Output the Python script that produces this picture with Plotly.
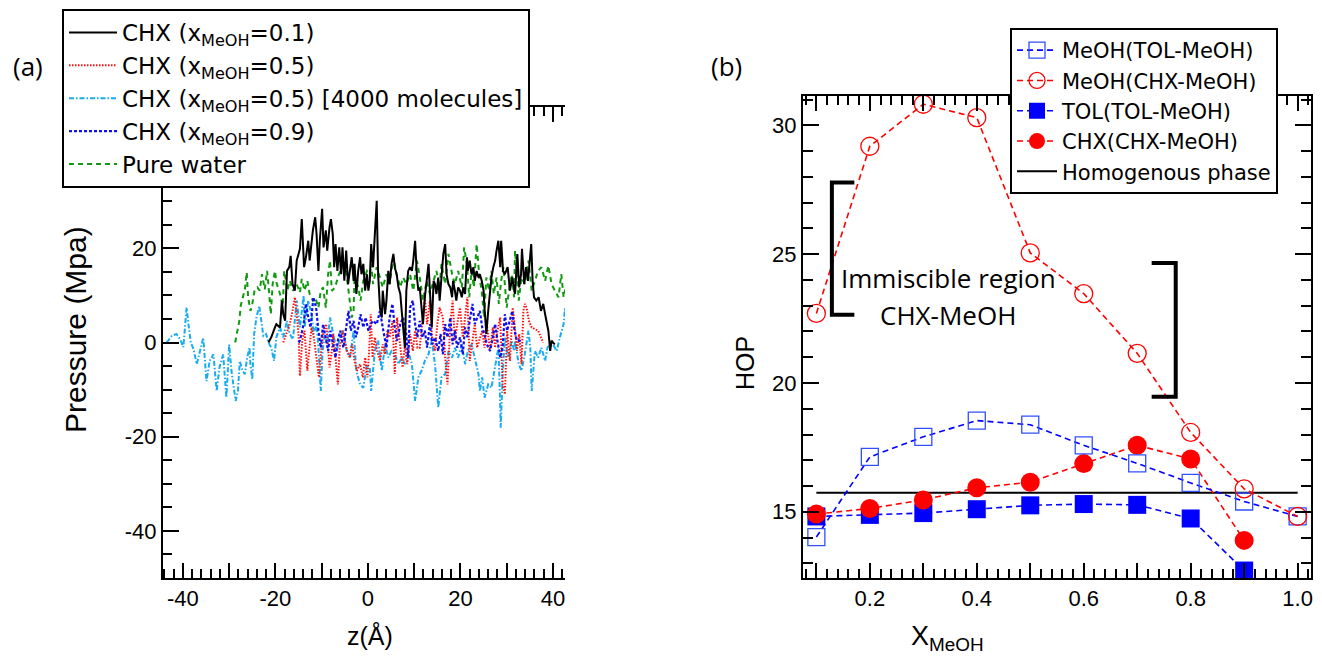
import plotly.graph_objects as go

# ---------------- panel (a): pressure profiles ----------------
# CHX (x_MeOH=0.1)
z_chx01 = [-21.5, -20.9, -20.1, -19.8, -19.0, -18.6, -18.3, -17.9, -17.5, -17.0, -16.7, -16.3, -15.8, -15.4,
           -15.0, -14.7, -14.3, -13.8, -13.4, -12.9, -12.6, -11.9, -11.4, -11.1, -10.7, -10.4, -9.9, -9.6,
           -9.1, -8.8, -8.3, -8.0, -7.6, -7.3, -7.0, -6.6, -6.2, -5.8, -5.5, -5.1, -4.7, -4.3,
           -4.0, -3.5, -3.1, -2.9, -2.5, -2.1, -1.7, -1.4, -1.0, -0.6, -0.2, 0.1, 0.4, 0.7, 1.1, 1.5,
           1.9, 2.2, 2.6, 3.0, 3.2, 3.7, 4.0, 4.4, 4.7, 5.1, 5.5, 5.8, 6.2, 6.6, 7.0, 7.3,
           7.6, 8.0, 8.3, 8.7, 9.1, 9.5, 9.8, 10.2, 10.6, 10.9, 11.2, 11.6, 11.9, 12.3, 12.7, 13.1, 13.4, 13.8,
           14.2, 14.5, 14.8, 15.2, 15.5, 15.9, 16.3, 16.7, 17.0, 17.4, 17.8, 18.2, 18.4, 18.8, 19.1, 19.5, 19.9, 20.3, 20.6,
           21.0, 21.4, 21.6, 22.0, 22.4, 22.8, 23.1, 23.5, 23.9, 24.2, 24.6, 25.0, 25.2, 25.6, 26.0, 26.4, 26.7,
           27.1, 27.5, 27.8, 28.2, 28.6, 28.8, 29.2, 29.6, 30.2, 30.7, 31.2, 31.8, 32.3, 32.7, 33.1, 33.3,
           33.8, 34.2, 34.6, 34.9, 35.3, 35.6, 35.9, 36.4, 36.9, 37.4, 37.9, 38.3, 38.7, 39.0, 39.4, 39.7,
           40.0, 40.4]
p_chx01 = [0, 1.1, 3.2, 3.9, 3.2, 8.9, 6.0, 4.6, 15.2, 16.0, 18.4, 12.4, 11.0, 17.4,
           18.8, 19.9, 26.2, 16.0, 18.1, 21.6, 17.4, 23.8, 26.6, 23.0, 15.2, 21.6, 28.4, 20.2,
           23.8, 19.5, 24.5, 26.2, 23.0, 16.0, 20.9, 15.2, 20.2, 14.5, 20.2, 13.1, 19.5, 12.4,
           14.5, 18.1, 13.1, 16.7, 10.3, 15.2, 18.1, 14.5, 16.7, 11.0, 14.5, 11.0, 13.1, 20.9, 16.0, 23.0,
           30.1, 14.5, 7.4, 5.3, 11.0, 6.0, 8.9, 15.2, 12.4, 16.7, 18.8, 16.0, 14.5, 11.7, 10.3, 6.7,
           3.9, -1.1, 11.0, 15.2, 16.0, 15.2, 17.4, 21.6, 13.8, 11.0, 11.7, 6.7, 3.9, 9.6, 13.1, 16.7, 11.0, 3.2,
           13.1, 12.4, 10.3, 13.8, 8.9, 13.1, 18.8, 20.9, 14.5, 12.4, 11.7, 9.6, 13.1, 11.0, 8.9, 11.7, 11.0, 9.6, 11.7,
           10.3, 18.1, 15.2, 17.4, 14.5, 16.0, 13.1, 15.2, 13.8, 14.5, 13.1, 11.0, 7.4, 1.8, 6.7, 11.7, 13.8,
           16.0, 17.4, 19.5, 21.6, 16.0, 21.6, 15.2, 14.5, 16.0, 11.0, 13.8, 10.3, 18.8, 11.7, 14.5, 19.9,
           12.4, 16.0, 13.1, 16.7, 20.9, 13.1, 9.6, 8.9, 9.6, 6.7, 8.2, 6.0, 3.9, 2.5, -1.8, 0.4,
           0, -0.4]

# CHX (x_MeOH=0.5)
z_chx05 = [-18.3, -17.5, -16.9, -16.3, -15.8, -15.4, -15.0, -14.7, -14.2, -13.7, -13.1, -12.7, -12.2, -11.7,
           -11.1, -10.6, -10.1, -9.6, -9.0, -8.3, -7.8, -7.5, -7.0, -6.5, -6.1, -5.5, -5.0, -4.5,
           -3.9, -3.4, -2.9, -2.4, -1.7, -1.1, -0.6, -0.1, 0.3, 0.6, 1.0, 1.5, 2.0, 2.6, 3.2, 3.7,
           4.2, 4.7, 5.3, 5.8, 6.3, 7.0, 7.5, 8.0, 8.5, 9.1, 9.7, 10.2, 10.7, 11.2, 11.8, 12.3, 12.8, 13.4,
           13.9, 14.5, 15.0, 15.5, 16.2, 16.7, 17.2, 17.8, 18.3, 18.8, 19.3, 19.9, 20.5, 21.0, 21.5, 22.0, 22.6, 23.1, 23.6,
           24.2, 24.7, 25.2, 25.7, 26.4, 27.0, 27.5, 28.0, 28.6, 29.1, 29.6, 30.1, 30.7, 31.3, 31.7, 32.2,
           32.7, 33.2, 33.6, 33.9, 34.3, 34.8, 35.4, 36.1, 36.8, 37.4, 37.9]
p_chx05 = [0, 2.5, 3.9, 6.7, 9.6, 6.0, 1.8, -7.1, 0.4, 2.5, -6.0, -1.8, 3.2, 1.1,
           -3.9, -7.4, -1.8, 2.5, 3.9, -5.3, -1.8, 1.8, -3.2, -8.9, -1.1, 2.5, 0.4, -1.8,
           -3.2, -0.4, -3.9, -6.0, -4.6, -7.4, -3.2, -7.4, -1.1, 6.0, -3.2, 1.1, -1.8, -3.9, -0.4, -2.5,
           2.5, 1.1, 4.6, -6.7, 5.3, -1.8, -5.3, -0.4, -4.6, 1.8, -1.8, 2.5, -1.1, -1.1, 4.6, 9.6, 3.9, 8.9,
           0.4, -1.8, 3.9, 7.4, 5.3, -3.2, -8.9, 3.9, 8.9, 0.4, 3.9, 7.4, 1.1, 5.3, 9.6, -3.9, 0.4, 3.9, -1.1,
           1.1, 2.5, -1.1, 3.9, -1.8, 3.2, -1.1, 2.5, 5.3, -8.9, -11.0, 2.5, -3.9, 7.4, 3.9, -1.8,
           1.8, -4.6, 6.7, 8.2, 7.4, 4.6, 3.2, 2.8, 2.5, 1.1, 0]

# CHX (x_MeOH=0.5), 4000 molecules
z_chx05_big = [-43.5, -42.4, -41.4, -40.6, -39.9, -39.2, -38.8, -38.3, -37.7, -37.0, -36.3, -35.6, -34.9,
               -34.2, -33.4, -32.7, -32.1, -31.3, -30.6, -30.0, -29.5, -28.6, -28.1, -27.7, -27.1, -26.6,
               -26.1, -25.6, -25.4, -25.0, -24.6, -24.1, -23.5, -23.0, -22.6, -22.0, -21.5, -20.9, -20.3,
               -19.8, -19.0, -18.3, -17.5, -16.9, -16.2, -15.4, -14.7, -13.9, -13.7, -12.9, -12.2, -11.7,
               -11.1, -10.7, -10.2, -9.8, -9.3, -8.8, -8.2, -7.5, -6.7, -6.1, -5.3, -4.6, -3.9,
               -3.1, -2.5, -1.7, -1.0, -0.2, 0.4, 0.7, 1.5, 2.2, 3.0, 3.7, 4.4, 5.1, 5.8, 6.6,
               7.3, 8.0, 8.7, 9.5, 10.2, 10.9, 11.6, 12.3, 13.1, 13.8, 14.5, 15.2, 15.9, 16.7, 17.4, 18.2, 18.8, 19.5,
               20.3, 21.0, 21.6, 22.4, 23.1, 23.9, 24.2, 24.7, 25.2, 26.0, 26.7, 27.5, 28.2, 28.6, 28.7, 29.1,
               29.6, 30.3, 31.1, 31.6, 31.8, 32.6, 33.2, 33.9, 34.7, 35.1, 35.4, 36.1, 36.8, 37.5, 38.3,
               38.8, 39.4, 40.0, 40.8, 41.5, 42.3, 42.6, 43.1, 43.6]
p_chx05_big = [0, 1.4, 1.8, 0.7, -1.0, 7.4, 3.9, 0, -1.4, -4.6, -1.8, 1.0, -8.2,
               -3.9, -2.5, -10.3, -5.3, -2.5, -11.7, -0.4, -6.0, -12.4, -10.3, -3.9, -6.0, -6.7,
               -3.2, -1.1, -4.6, -7.8, 1.8, 5.3, 7.8, 4.6, 1.4, 1.8, 0, -1.1, -3.9,
               1.1, 3.2, 1.1, 4.6, 1.8, 0.7, 8.9, 3.2, 10.0, 3.2, 8.9, 6.0, 1.8,
               3.9, -1.1, -10.3, -1.8, 1.8, -0.4, 5.3, 1.8, -1.8, 1.1, 2.5, -1.8, -3.2,
               2.5, -6.0, -8.9, -9.6, -4.6, -5.3, -10.3, -1.8, 0.4, -6.0, -0.4, -3.2, -1.8, -2.5, -4.6,
               -3.2, -4.6, -1.8, -4.6, -12.4, -7.4, -6.0, -3.9, -2.5, 0.4, -4.6, -13.8, -7.4, -6.7, -1.8, -3.2, -1.1, -3.2,
               -0.4, -4.6, -1.8, -0.4, -3.2, -6.7, -10.3, -7.4, -11.7, -8.9, -9.6, -4.6, -1.1, -13.1, -18.1, -7.4,
               1.1, -3.2, 0.4, -1.8, 0.4, -4.6, -6.0, -2.5, 2.5, -1.1, -10.3, -1.8, -3.2, -1.1, -3.9,
               -1.1, -0.4, -0.4, -1.8, 1.1, 3.9, 7.4, 2.5, 0.4]

# CHX (x_MeOH=0.9)
z_chx09 = [-15.0, -14.7, -13.9, -13.4, -12.9, -12.4, -11.8, -11.2, -10.7, -10.2, -9.7, -9.1, -8.6, -8.1,
           -7.5, -7.0, -6.5, -6.0, -5.3, -4.7, -4.2, -3.7, -3.1, -2.6, -2.1, -1.6, -1.0, -0.5, 0.1,
           0.6, 1.1, 1.9, 2.6, 3.2, 4.0, 4.7, 5.3, 5.8, 6.3, 7.0, 7.6, 8.2, 8.7, 9.1, 9.7, 10.2,
           10.7, 11.2, 11.8, 12.3, 12.8, 13.4, 13.9, 14.5, 15.2, 15.7, 16.2, 16.7, 17.2, 17.8, 18.3, 18.8, 19.3, 19.9, 20.5, 21.0,
           21.5, 22.0, 22.6, 23.1, 23.6, 24.2, 24.7, 25.2, 25.7, 26.4, 27.0, 27.5, 28.0, 28.6, 29.1, 29.6,
           30.1, 30.7, 31.2, 31.7, 32.2, 32.8, 33.2]
p_chx09 = [0, 0.4, 3.9, 8.2, 5.3, 3.2, 9.6, 7.4, 2.5, -1.1, 3.9, 1.1, -1.8, 2.5,
           -1.1, -3.2, 0.4, 2.5, -1.1, 3.9, 6.7, 2.5, 4.6, 1.1, 3.2, 6.0, 3.2, 5.3, 2.5,
           3.9, 4.6, 3.9, 6.7, 3.2, -1.1, 5.3, 8.2, 3.2, 0.4, 3.9, 5.3, 2.5, -3.2, 7.4, 8.9, 3.9,
           1.1, 4.6, 1.1, 2.5, -1.1, 3.9, -0.4, 1.1, -1.8, 1.8, -2.5, 3.9, 1.1, 5.3, -0.4, 2.5, -1.1, 1.1, -2.5, 3.2,
           1.1, 4.6, 8.2, 3.9, 5.3, 6.7, 3.2, 1.8, -0.4, -1.8, 1.1, 3.9, 0.4, -3.2, -1.1, 6.0,
           2.5, 4.6, 6.7, 2.5, 0.4, 0.4, 0]

# Pure water
z_water = [-28.7, -28.3, -27.8, -27.5, -27.0, -26.6, -26.2, -25.9, -25.4, -25.0, -24.5, -23.9, -23.4, -22.9,
           -22.3, -21.8, -21.4, -21.0, -20.6, -20.1, -19.8, -19.0, -18.4, -18.1, -17.4, -16.9, -16.2, -15.4,
           -14.7, -14.3, -13.7, -13.1, -12.6, -11.9, -11.4, -10.7, -10.2, -9.7, -9.1, -8.6, -8.2, -7.8,
           -7.1, -6.5, -5.7, -5.0, -4.2, -3.5, -3.1, -2.9, -2.1, -1.6, -1.0, -0.2, 0.4, 0.7, 1.1,
           1.9, 2.6, 3.2, 4.0, 4.7, 5.5, 6.2, 7.0, 7.6, 8.3, 9.1, 9.8, 10.6, 11.2, 11.9, 12.7, 13.4,
           14.2, 14.8, 15.5, 15.9, 16.7, 17.4, 18.2, 18.8, 19.5, 20.3, 20.8, 21.4, 21.9, 22.4, 22.9, 23.5, 24.1, 24.6,
           25.1, 25.6, 26.2, 26.7, 27.2, 27.8, 28.3, 28.8, 29.3, 30.0, 30.6, 31.1, 31.6, 31.8, 32.6, 33.2,
           33.9, 34.7, 35.4, 36.1, 36.8, 37.5, 38.3, 39.0, 39.7, 40.4, 41.2, 41.8, 42.3, 42.6, 43.3, 43.6]
p_water = [0, 1.8, 4.6, 7.8, 9.9, 11.3, 14.9, 9.6, 6.7, 8.2, 11.0, 11.7, 11.0, 14.5,
           11.3, 15.2, 11.0, 6.0, 12.4, 15.2, 12.8, 10.3, 7.8, 15.2, 11.0, 13.1, 11.0, 12.4,
           10.6, 13.5, 11.0, 13.1, 10.3, 8.9, 9.6, 7.4, 11.0, 11.7, 7.4, 14.5, 17.4, 11.0,
           11.7, 13.8, 16.0, 17.4, 11.0, 5.3, 6.7, 14.5, 11.7, 8.9, 13.1, 15.2, 14.5, 16.7, 12.4,
           16.0, 13.8, 11.7, 14.5, 12.4, 18.1, 14.5, 11.7, 13.8, 12.4, 14.5, 11.0, 17.4, 13.8, 8.9, 13.1, 10.3,
           13.1, 15.2, 11.7, 16.7, 12.4, 18.8, 14.5, 12.4, 15.2, 11.7, 20.2, 16.7, 9.6, 15.2, 11.7, 20.9, 13.8, 11.0,
           5.3, 13.8, 11.0, 15.2, 10.3, 13.8, 8.2, 13.1, 16.0, 7.4, 11.7, 14.5, 9.6, 19.5, 8.9, 13.8,
           12.4, 17.4, 11.0, 13.1, 15.2, 16.0, 13.1, 16.3, 12.4, 11.0, 9.6, 14.5, 9.6, 11.0, 12.8, 13.1]

# ---------------- panel (b): HOP vs x_MeOH ----------------
x_meoh = [0.1, 0.2, 0.3, 0.4, 0.5, 0.6, 0.7, 0.8, 0.9, 1.0]
hop_meoh_tol = [14.02, 17.13, 17.91, 18.54, 18.38, 17.58, 16.88, 16.12, 15.40, 14.82]
hop_meoh_chx = [22.70, 29.19, 30.82, 30.30, 25.05, 23.47, 21.15, 18.08, 15.89, 14.82]
x_solute = [0.1, 0.2, 0.3, 0.4, 0.5, 0.6, 0.7, 0.8, 0.9]
hop_tol = [14.82, 14.88, 14.95, 15.10, 15.25, 15.30, 15.27, 14.74, 12.72]
hop_chx = [14.91, 15.13, 15.46, 15.93, 16.15, 16.87, 17.58, 17.05, 13.89]
x_homog = [0.1, 1.0]
hop_homog = [15.74, 15.74]

# tick labels
a_xticks = [-40, -30, -20, -10, 0, 10, 20, 30, 40]
a_xlabels = ["-40", "", "-20", "", "0", "", "20", "", "40"]
a_yticks = [-40, -20, 0, 20]
a_ylabels = ["-40", "-20", "0", "20"]
b_xticks = [0.1, 0.2, 0.3, 0.4, 0.5, 0.6, 0.7, 0.8, 0.9, 1.0]
b_xlabels = ["", "0.2", "", "0.4", "", "0.6", "", "0.8", "", "1.0"]
b_yticks = [15, 20, 25, 30]

# bracket + label of the immiscible region (data coords of panel b)
left_bracket = [(0.171, 27.78), (0.129, 27.78), (0.129, 22.65), (0.171, 22.65)]
right_bracket = [(0.727, 24.66), (0.772, 24.66), (0.772, 19.47), (0.727, 19.47)]

# page body keeps an 8px margin, so the figure is 8px smaller than the window
W, H = 1314, 653


def fx(px):
    return px / W


def fy(py):
    return 1 - py / H


FONT = "Liberation Sans, Arial, Helvetica, sans-serif"
WIDE = "DejaVu Sans, Verdana, sans-serif"
CAL = "Open Sans, Lato, sans-serif"

fig = go.Figure()

# panel (a)
fig.add_trace(go.Scatter(x=z_water, y=p_water, mode="lines", name="Pure water", legendrank=5,
                         line=dict(color="#119911", width=2, dash="5px,4px"), legend="legend"))
fig.add_trace(go.Scatter(x=z_chx05_big, y=p_chx05_big, mode="lines", legendrank=3,
                         name="CHX (x<sub>MeOH</sub>=0.5) [4000 molecules]",
                         line=dict(color="#17ABF0", width=2, dash="5px,2px,1.5px,2px"), legend="legend"))
fig.add_trace(go.Scatter(x=z_chx05, y=p_chx05, mode="lines", name="CHX (x<sub>MeOH</sub>=0.5)", legendrank=2,
                         line=dict(color="#FF1010", width=2, dash="1.5px,1.5px"), legend="legend"))
fig.add_trace(go.Scatter(x=z_chx09, y=p_chx09, mode="lines", name="CHX (x<sub>MeOH</sub>=0.9)", legendrank=4,
                         line=dict(color="#1010EE", width=2.2, dash="3px,2px"), legend="legend"))
fig.add_trace(go.Scatter(x=z_chx01, y=p_chx01, mode="lines", name="CHX (x<sub>MeOH</sub>=0.1)", legendrank=1,
                         line=dict(color="black", width=2), legend="legend"))

# panel (b)
fig.add_trace(go.Scatter(x=x_homog, y=hop_homog, mode="lines", name="Homogenous phase", legendrank=5,
                         line=dict(color="black", width=2), xaxis="x2", yaxis="y2", legend="legend2"))
fig.add_trace(go.Scatter(x=x_solute, y=hop_tol, mode="lines+markers", name="TOL(TOL-MeOH)", legendrank=3,
                         line=dict(color="#0000FF", width=1.6, dash="6px,4px"),
                         marker=dict(symbol="square", size=18, color="#0000FF"),
                         xaxis="x2", yaxis="y2", legend="legend2"))
fig.add_trace(go.Scatter(x=x_solute, y=hop_chx, mode="lines+markers", name="CHX(CHX-MeOH)", legendrank=4,
                         line=dict(color="#FF0000", width=1.6, dash="6px,4px"),
                         marker=dict(symbol="circle", size=19, color="#FF0000"),
                         xaxis="x2", yaxis="y2", legend="legend2"))
fig.add_trace(go.Scatter(x=x_meoh, y=hop_meoh_tol, mode="lines+markers", name="MeOH(TOL-MeOH)", legendrank=1,
                         line=dict(color="#0000FF", width=1.6, dash="6px,4px"),
                         marker=dict(symbol="square-open", size=17, color="#3050FF", line=dict(width=1.3)),
                         xaxis="x2", yaxis="y2", legend="legend2"))
fig.add_trace(go.Scatter(x=x_meoh, y=hop_meoh_chx, mode="lines+markers", name="MeOH(CHX-MeOH)", legendrank=2,
                         line=dict(color="#FF0000", width=1.6, dash="6px,4px"),
                         marker=dict(symbol="circle-open", size=18, color="#FF0000", line=dict(width=1.3)),
                         xaxis="x2", yaxis="y2", legend="legend2"))

axis_common = dict(showline=True, linecolor="black", linewidth=2, ticks="inside",
                   tickcolor="black", tickwidth=1.5, showgrid=False, zeroline=False,
                   tickfont=dict(family=FONT, size=22, color="black"), tickmode="array")
minor_common = dict(ticks="inside", tickcolor="black", tickwidth=1.5, showgrid=False)

fig.update_layout(
    width=W, height=H,
    paper_bgcolor="white", plot_bgcolor="white",
    margin=dict(l=0, r=0, t=0, b=0, autoexpand=False),
    xaxis=dict(axis_common, domain=[fx(155), fx(557)], range=[-44.3, 42.6], mirror="allticks",
               tickvals=a_xticks, ticktext=a_xlabels, ticklen=15,
               minor=dict(minor_common, dtick=2, ticklen=9), anchor="y"),
    yaxis=dict(axis_common, domain=[fy(570), fy(99)], range=[-50, 50], mirror=False,
               tickvals=a_yticks, ticktext=a_ylabels, ticklen=16,
               minor=dict(minor_common, dtick=5, ticklen=9), anchor="x"),
    xaxis2=dict(axis_common, domain=[fx(795), fx(1303)], range=[0.075, 1.025], mirror="allticks",
                tickvals=b_xticks, ticktext=b_xlabels, ticklen=15,
                minor=dict(minor_common, dtick=0.02, ticklen=9), anchor="y2"),
    yaxis2=dict(axis_common, domain=[fy(570), fy(88)], range=[12.43, 31.14], mirror="allticks",
                tickvals=b_yticks, ticklen=16,
                minor=dict(minor_common, dtick=1, ticklen=10), anchor="x2"),
    legend=dict(x=fx(54), y=fy(1), xanchor="left", yanchor="top", bgcolor="white",
                bordercolor="black", borderwidth=2,
                font=dict(family=WIDE, size=23, color="black"), itemwidth=48),
    legend2=dict(x=fx(1002), y=fy(20), xanchor="left", yanchor="top", bgcolor="white",
                 bordercolor="black", borderwidth=2,
                 font=dict(family=WIDE, size=21, color="black"), itemwidth=40),
    annotations=[
        dict(text="(a)", x=fx(20), y=fy(58), xref="paper", yref="paper", showarrow=False,
             xanchor="center", yanchor="middle", font=dict(family=CAL, size=26, color="black")),
        dict(text="(b)", x=fx(718), y=fy(58), xref="paper", yref="paper", showarrow=False,
             xanchor="center", yanchor="middle", font=dict(family=CAL, size=26, color="black")),
        dict(text="Pressure (Mpa)", x=fx(67), y=fy(322), xref="paper", yref="paper", showarrow=False,
             textangle=-90, xanchor="center", yanchor="middle",
             font=dict(family=FONT, size=30, color="black")),
        dict(text="z(Å)", x=fx(362), y=fy(627), xref="paper", yref="paper", showarrow=False,
             xanchor="center", yanchor="middle", font=dict(family=FONT, size=25, color="black")),
        dict(text="HOP", x=fx(737), y=fy(355), xref="paper", yref="paper", showarrow=False,
             textangle=-90, xanchor="center", yanchor="middle",
             font=dict(family=FONT, size=25, color="black")),
        dict(text="X<sub>MeOH</sub>", x=fx(939), y=fy(630), xref="paper", yref="paper", showarrow=False,
             xanchor="center", yanchor="middle", font=dict(family=FONT, size=27, color="black")),
        dict(text="Immiscible region", x=0.347, y=24.06, xref="x2", yref="y2", showarrow=False,
             font=dict(family=CAL, size=26, color="black")),
        dict(text="CHX-MeOH", x=0.347, y=22.65, xref="x2", yref="y2", showarrow=False,
             font=dict(family=CAL, size=26, color="black")),
    ],
)


def bracket_path(pts):
    return "M " + " L ".join(f"{x},{y}" for x, y in pts)


for br in (left_bracket, right_bracket):
    fig.add_shape(type="path", path=bracket_path(br), xref="x2", yref="y2",
                  line=dict(color="black", width=4))

fig.write_html("out.html")
